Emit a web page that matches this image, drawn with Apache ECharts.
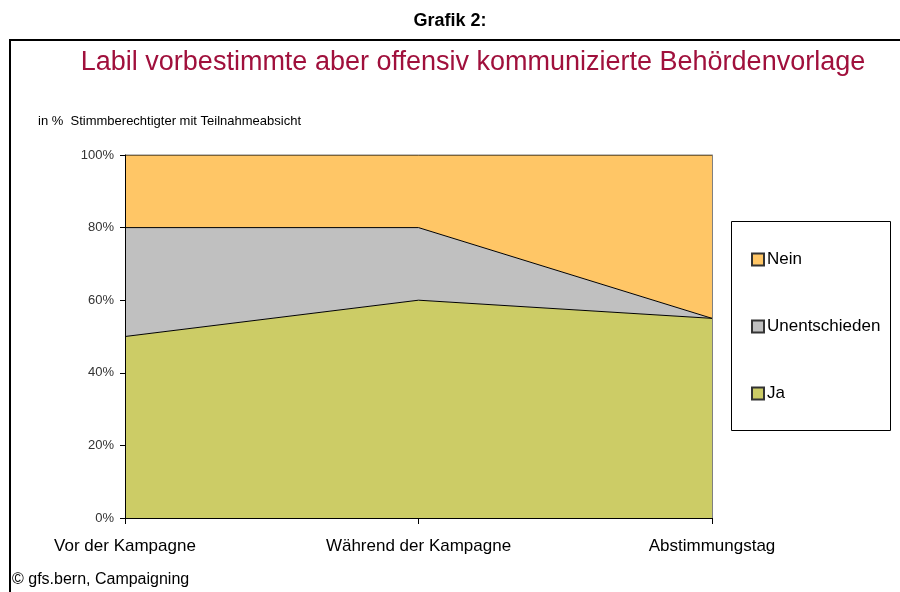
<!DOCTYPE html>
<html>
<head>
    <meta charset="utf-8">
    <title>Grafik 2</title>
    <script src="https://fastly.jsdelivr.net/npm/echarts@6/dist/echarts.min.js"></script>
    <style>body{margin:0;background:#fff;}</style>
</head>
<body>
    <div id="main" style="width: 900px;height:592px;"></div>
    <script type="text/javascript">
        var categories = ['Vor der Kampagne', 'Während der Kampagne', 'Abstimmungstag'];
        var ja = [50, 60, 55];
        var unentschieden = [30, 20, 0];
        var nein = [20, 20, 45];
        var yTicks = [0, 20, 40, 60, 80, 100];

        var myChart = echarts.init(document.getElementById('main'));

        function areaSeries(name, data, color) {
            return {
                name: name,
                type: 'line',
                stack: 'total',
                data: data,
                symbol: 'none',
                lineStyle: { color: '#000', width: 1 },
                areaStyle: { color: color, opacity: 1 },
                itemStyle: { color: color, borderColor: '#333', borderWidth: 1 }
            };
        }

        var option = {
            animation: false,
            textStyle: { fontFamily: 'Liberation Sans, Arial, sans-serif' },
            title: [
                {
                    text: 'Grafik 2:',
                    left: 'center', top: 7,
                    textStyle: { fontSize: 18, fontWeight: 'bold', color: '#000', fontFamily: 'Liberation Sans Narrow, Liberation Sans, sans-serif' }
                },
                {
                    text: 'Labil vorbestimmte aber offensiv kommunizierte Behördenvorlage',
                    left: 468, textAlign: 'center', top: 44,
                    textStyle: { fontSize: 27, fontWeight: 'normal', color: '#A0103C' }
                },
                {
                    text: 'in %  Stimmberechtigter mit Teilnahmeabsicht',
                    left: 33, top: 110,
                    textStyle: { fontSize: 13, fontWeight: 'normal', color: '#000' }
                },
                {
                    text: '© gfs.bern, Campaigning',
                    left: 7, top: 567,
                    textStyle: { fontSize: 16, fontWeight: 'normal', color: '#000' }
                }
            ],
            graphic: [
                { type: 'rect', shape: { x: 10, y: 40, width: 900, height: 600 }, style: { fill: 'none', stroke: '#000', lineWidth: 2 }, z: 100 },
                { type: 'rect', shape: { x: 731.5, y: 221.5, width: 159, height: 209 }, style: { fill: '#fff', stroke: '#000', lineWidth: 1 }, z: 0 }
            ],
            legend: {
                data: ['Nein', 'Unentschieden', 'Ja'],
                orient: 'vertical',
                left: 746, top: 246,
                itemGap: 49,
                itemWidth: 12, itemHeight: 12,
                itemGap: 50,
                icon: 'rect',
                textStyle: { fontSize: 17, color: '#000', padding: [0, 0, 0, -2] },
                z: 10
            },
            grid: { left: 125, right: 188, top: 155, bottom: 74 },
            xAxis: {
                type: 'category',
                data: categories,
                boundaryGap: false,
                z: 10,
                axisLine: { lineStyle: { color: '#000', width: 1 } },
                axisTick: { show: true, length: 6, lineStyle: { color: '#000' } },
                axisLabel: { fontSize: 17, color: '#000', margin: 20 },
                splitLine: { show: false }
            },
            yAxis: [
                {
                    type: 'value',
                    min: 0, max: 100, interval: 20,
                    z: 10,
                    axisLine: { show: true, lineStyle: { color: '#000', width: 1 } },
                    axisTick: { show: true, length: 5, lineStyle: { color: '#000' } },
                    axisLabel: {
                        fontSize: 13, color: '#333', margin: 11,
                        formatter: function (v) { return yTicks.indexOf(v) >= 0 ? v + '%' : ''; }
                    },
                    splitLine: { show: false }
                },
                {
                    type: 'value',
                    position: 'right',
                    min: 0, max: 100, interval: 20,
                    z: 10,
                    axisLine: { show: true, lineStyle: { color: '#808080', width: 1 } },
                    axisTick: { show: false },
                    axisLabel: { show: false },
                    splitLine: { show: false }
                }
            ],
            series: [
                areaSeries('Ja', ja, '#CCCC66'),
                areaSeries('Unentschieden', unentschieden, '#C0C0C0'),
                areaSeries('Nein', nein, '#FFC666')
            ]
        };

        myChart.setOption(option);
    </script>
</body>
</html>
